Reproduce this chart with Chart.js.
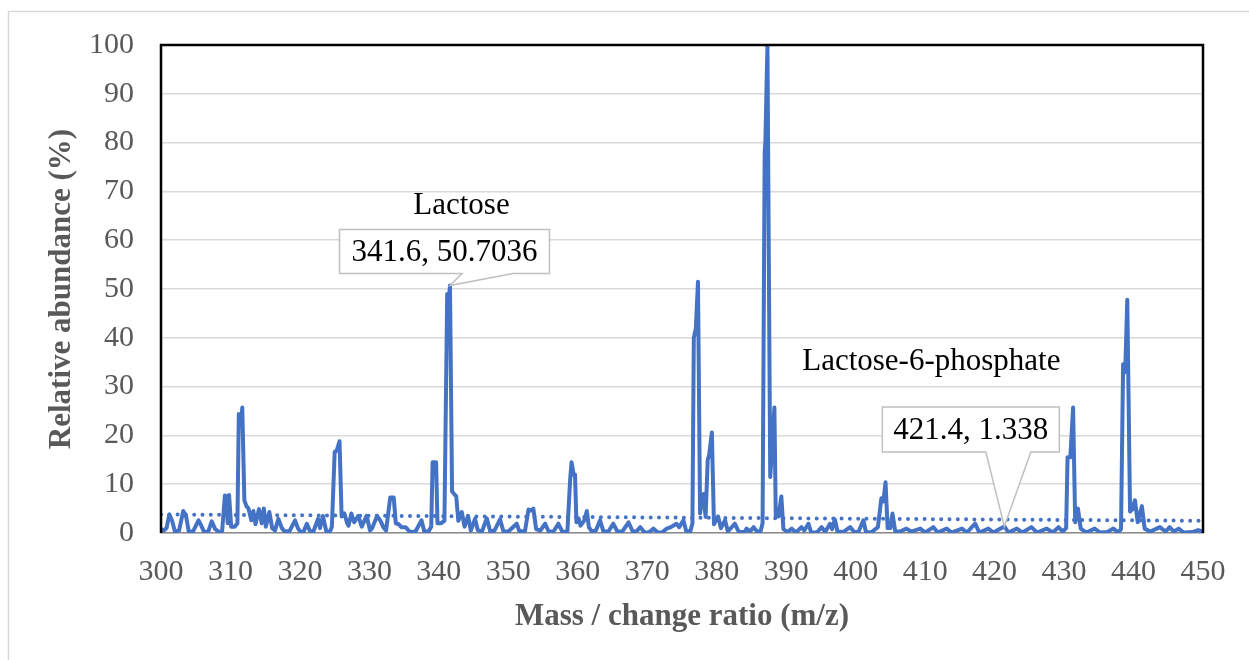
<!DOCTYPE html>
<html>
<head>
<meta charset="utf-8">
<script src="https://cdn.jsdelivr.net/npm/chart.js@4"></script>
<style>
html,body{margin:0;padding:0;background:#fff;}
canvas{display:block;}
</style>
</head>
<body>
<canvas id="c" width="1249" height="660"></canvas>
<script>
// m/z values
const mz = [
300.0,300.4,300.8,301.2,301.6,302.0,302.6,303.2,303.6,304.0,304.6,305.4,305.8,306.2,306.8,307.3,307.8,308.4,308.8,
309.2,309.4,309.6,309.8,310.1,310.6,311.0,311.2,311.5,311.7,312.0,312.3,312.6,313.0,313.3,313.6,314.1,314.5,314.8,
315.1,315.6,316.0,316.4,316.9,317.4,317.8,318.5,319.3,319.7,320.1,320.5,321.0,321.4,321.9,322.6,322.9,323.3,323.8,
324.3,324.6,325.0,325.3,325.7,326.0,326.4,326.8,327.0,327.4,327.8,328.4,328.9,329.6,330.1,330.4,331.1,331.6,332.0,
332.4,333.0,333.5,333.8,334.2,334.6,335.2,335.8,336.6,337.5,337.9,338.5,338.9,339.1,339.6,339.8,340.3,340.8,341.2,
341.4,341.6,341.9,342.2,342.5,342.8,343.3,343.7,344.2,344.6,345.2,345.6,346.2,346.9,347.4,348.0,348.8,349.3,350.0,
351.2,351.6,352.4,352.9,353.3,353.6,354.0,354.6,355.3,355.8,356.5,357.2,357.8,358.5,358.9,359.1,359.4,359.6,359.8,
360.1,360.4,360.9,361.3,361.6,362.0,362.6,363.2,363.7,364.4,365.1,365.7,366.4,367.3,367.9,368.4,369.0,369.6,370.2,
370.9,371.5,372.1,372.8,373.4,374.2,374.6,375.2,375.6,376.2,376.5,376.7,377.0,377.3,377.6,377.8,378.1,378.4,378.7,
378.9,379.3,379.6,380.2,380.6,381.2,381.6,382.6,383.2,384.0,384.3,384.8,385.3,385.8,386.3,386.6,386.9,387.0,387.3,
387.7,388.0,388.3,388.5,388.9,389.3,389.6,390.2,390.8,391.4,392.2,392.6,393.2,393.6,394.4,395.1,395.6,396.3,396.6,
397.0,397.4,398.3,399.2,399.8,400.4,401.1,401.5,402.3,403.2,403.7,404.0,404.3,404.6,405.0,405.3,405.7,406.4,407.3,
408.0,409.3,410.0,411.2,411.8,413.1,413.8,415.3,416.0,417.2,417.8,419.1,419.8,421.4,422.0,423.2,424.0,425.3,426.1,
427.5,428.4,429.2,429.8,430.3,430.5,430.9,431.3,431.6,432.0,432.4,433.2,434.4,435.2,436.2,437.1,437.8,438.2,438.5,
438.8,439.1,439.5,439.8,440.2,440.6,441.2,441.6,442.4,443.8,444.6,445.2,445.8,446.5,447.2,448.5,449.3,450.0
];
// relative abundance (%)
const abundance = [
0.8,0.5,1.0,3.8,2.5,0.3,0.5,4.5,3.5,0.3,0.3,2.6,1.5,0.2,0.3,2.4,0.8,0.2,0.4,
7.7,7.5,2.0,7.8,1.3,1.3,2.0,24.4,22.0,25.7,6.7,5.5,5.0,2.6,4.5,1.8,4.9,2.0,5.0,
1.3,4.3,1.0,0.5,2.9,1.0,0.3,0.4,2.6,1.0,0.2,0.2,1.9,0.5,0.1,2.9,1.0,3.5,0.3,
0.2,1.3,16.6,16.9,18.8,3.4,4.0,2.0,1.5,4.0,2.2,3.5,1.3,3.5,0.5,1.0,3.5,2.5,1.2,
0.5,7.3,7.3,2.0,1.8,1.2,1.2,0.3,0.2,2.6,0.3,0.3,1.3,14.5,14.5,2.0,2.0,2.5,49.0,
47.0,50.7036,8.5,8.0,7.5,2.5,4.3,1.3,3.5,0.5,2.9,0.6,0.3,3.0,0.3,0.5,2.8,0.3,0.3,
1.9,0.3,0.4,4.8,4.6,5.0,0.8,0.5,1.9,0.3,0.3,1.9,0.2,0.3,11.0,14.5,12.0,12.0,2.2,
3.0,1.5,2.5,4.5,1.2,0.3,0.5,2.6,0.3,0.3,1.9,0.3,0.3,2.2,0.3,0.3,1.2,0.1,0.1,
0.9,0.1,0.1,0.9,1.2,1.9,1.2,2.6,0.4,0.3,2.0,40.0,42.0,51.5,4.0,6.0,8.0,3.3,15.0,
15.9,20.6,1.8,3.4,1.0,2.6,0.3,1.9,0.2,0.2,0.9,0.3,1.2,0.3,0.3,2.0,78.0,80.0,100.0,
11.5,18.0,25.7,3.4,3.4,7.5,0.8,0.2,0.9,0.1,1.2,0.5,1.9,0.1,0.1,1.2,0.2,1.9,0.8,
2.8,0.2,0.3,1.2,0.2,0.2,2.6,0.1,0.2,1.2,7.1,6.5,10.4,1.0,1.0,4.0,0.3,0.3,0.9,
0.3,0.9,0.1,1.2,0.1,0.9,0.1,0.9,0.1,1.9,0.1,0.9,0.1,1.338,0.1,0.9,0.1,1.2,0.1,
0.9,0.1,1.2,0.3,1.0,15.5,15.5,25.7,2.2,5.0,0.9,0.1,0.9,0.1,0.2,0.9,0.1,0.8,34.6,
33.0,47.8,4.4,4.8,6.7,2.2,5.5,0.9,0.3,1.2,0.3,1.2,0.3,0.9,0.1,0.2,0.6,0.3
];
// dotted trend line end points
const trendX = [300, 450];
const trendY = [3.8, 2.5];
// axis ranges and tick steps
const xMin = 300, xMax = 450, xStep = 10;
const yMin = 0, yMax = 100, yStep = 10;
// annotations
const labelNames = ["Lactose", "Lactose-6-phosphate"];
const labelX = [341.6, 421.4];
const labelY = [50.7036, 1.338];
const calloutTexts = ["341.6, 50.7036", "421.4, 1.338"];

const BLUE = '#4472C4';
const GRAY_TXT = '#595959';
const SERIF = '"Liberation Serif", "Times New Roman", serif';

const spectrum = mz.map((x, i) => ({x: x, y: abundance[i]}));
const trend = trendX.map((x, i) => ({x: x, y: trendY[i]}));

const frame = {
  id: 'frame',
  beforeDraw(chart) {
    const ctx = chart.ctx;
    ctx.save();
    ctx.fillStyle = '#fff';
    ctx.fillRect(0, 0, chart.width, chart.height);
    ctx.strokeStyle = '#d9d9d9';
    ctx.lineWidth = 1.5;
    ctx.beginPath();
    ctx.moveTo(8.5, 662);
    ctx.lineTo(8.5, 11.5);
    ctx.lineTo(1252, 11.5);
    ctx.stroke();
    ctx.restore();
  },
  afterDatasetsDraw(chart) {
    const ctx = chart.ctx;
    const a = chart.chartArea;
    ctx.save();
    ctx.strokeStyle = '#000';
    ctx.lineWidth = 2.5;
    ctx.beginPath();
    ctx.moveTo(a.left, a.bottom);
    ctx.lineTo(a.left, a.top);
    ctx.lineTo(a.right, a.top);
    ctx.lineTo(a.right, a.bottom);
    ctx.stroke();

    const xs = chart.scales.x, ys = chart.scales.y;
    // callout geometry (pixel offsets relative to the pointed data value)
    const boxes = [
      {dx0: -110.5, dx1: 99.5, dy0: -56, dy1: -12, b0: 12, b1: 63, nameDx: 11.5, nameBase: -72},
      {dx0: -122, dx1: 55, dy0: -119.5, dy1: -74.5, b0: -18.5, b1: 26.5, nameDx: -73, nameBase: -156.5}
    ];
    for (let i = 0; i < labelX.length; i++) {
      const px = xs.getPixelForValue(labelX[i]);
      const py = ys.getPixelForValue(labelY[i]);
      const g = boxes[i];
      const L = px + g.dx0, R = px + g.dx1, T = py + g.dy0, B = py + g.dy1;
      ctx.beginPath();
      ctx.moveTo(L, T);
      ctx.lineTo(R, T);
      ctx.lineTo(R, B);
      ctx.lineTo(px + g.b1, B);
      ctx.lineTo(px, py);
      ctx.lineTo(px + g.b0, B);
      ctx.lineTo(L, B);
      ctx.closePath();
      ctx.fillStyle = '#fff';
      ctx.fill();
      ctx.strokeStyle = '#bfbfbf';
      ctx.lineWidth = 1.5;
      ctx.stroke();
      ctx.fillStyle = '#000';
      ctx.font = '31px ' + SERIF;
      ctx.textAlign = 'center';
      ctx.textBaseline = 'middle';
      ctx.fillText(calloutTexts[i], (L + R) / 2, (T + B) / 2 + 1);
      ctx.textBaseline = 'alphabetic';
      ctx.fillText(labelNames[i], px + g.nameDx, py + g.nameBase);
    }
    ctx.restore();
  }
};

new Chart(document.getElementById('c'), {
  type: 'line',
  data: {
    datasets: [
      {
        data: spectrum,
        borderColor: BLUE,
        borderWidth: 4,
        pointRadius: 0,
        tension: 0,
        borderJoinStyle: 'round',
        fill: false,
        order: 1
      },
      {
        data: trend,
        borderColor: BLUE,
        borderWidth: 4,
        borderDash: [0, 8.3],
        borderCapStyle: 'round',
        pointRadius: 0,
        fill: false,
        order: 2
      }
    ]
  },
  options: {
    responsive: false,
    animation: false,
    devicePixelRatio: 1,
    layout: {padding: {top: 42, right: 46, left: 0, bottom: 0}},
    plugins: {legend: {display: false}, tooltip: {enabled: false}},
    scales: {
      x: {
        type: 'linear',
        min: xMin, max: xMax,
        afterFit(s) { s.height = 127; },
        ticks: {
          stepSize: xStep,
          color: GRAY_TXT,
          font: {family: SERIF, size: 30},
          padding: 21,
          maxRotation: 0
        },
        grid: {display: false, drawTicks: false},
        border: {display: true, color: '#8c8c8c', width: 1.5},
        title: {
          display: true,
          text: 'Mass / change ratio (m/z)',
          color: GRAY_TXT,
          font: {family: SERIF, size: 31, weight: 'bold'},
          padding: {top: 0, bottom: 24}
        }
      },
      y: {
        min: yMin, max: yMax,
        afterFit(s) { s.width = 161; },
        ticks: {
          stepSize: yStep,
          color: GRAY_TXT,
          font: {family: SERIF, size: 30},
          padding: 27
        },
        grid: {color: '#d9d9d9', lineWidth: 1.5, drawTicks: false},
        border: {display: false},
        title: {
          display: true,
          text: 'Relative abundance (%)',
          color: GRAY_TXT,
          font: {family: SERIF, size: 31, weight: 'bold'},
          padding: {top: 43, bottom: 0}
        }
      }
    }
  },
  plugins: [frame]
});
</script>
</body>
</html>
